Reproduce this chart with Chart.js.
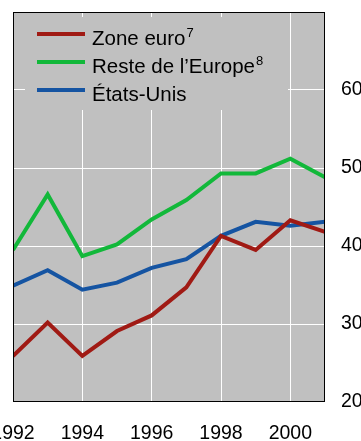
<!DOCTYPE html>
<html>
<head>
<meta charset="utf-8">
<script src="https://cdn.jsdelivr.net/npm/chart.js@4/dist/chart.umd.min.js"></script>
<style>
  html, body { margin: 0; padding: 0; background: #ffffff; }
  #wrap { width: 361px; height: 441px; position: relative; }
</style>
</head>
<body>
<div id="wrap"><canvas id="c" width="361" height="441"></canvas></div>
<script>
// Years on the horizontal axis
const years = [1992, 1993, 1994, 1995, 1996, 1997, 1998, 1999, 2000, 2001];

// Series values (per cent)
const zoneEuro     = [25.9, 30.2, 25.9, 29.1, 31.1, 34.7, 41.3, 39.5, 43.3, 41.8];
const resteEurope  = [39.5, 46.6, 38.7, 40.2, 43.4, 45.9, 49.3, 49.3, 51.2, 48.8];
const etatsUnis    = [34.9, 36.9, 34.4, 35.3, 37.2, 38.3, 41.3, 43.1, 42.6, 43.1];

// Legend entries: label text and superscript note
const seriesLabels = ['Zone euro', 'Reste de l\u2019Europe', '\u00C9tats-Unis'];
const seriesNotes  = ['7', '8', ''];
const seriesColors = ['#a01a14', '#12b83a', '#1554a2'];

// Axis limits and tick values
const xMin = 1992, xMax = 2001;
const xTickValues = [1992, 1994, 1996, 1998, 2000];
const yMin = 20, yMax = 70;
const yTickValues = [20, 30, 40, 50, 60, 70];
const yLabelValues = [20, 30, 40, 50, 60];

const PLOT_BG = '#c0c0c0';
const FONT = '"Liberation Sans", Arial, sans-serif';

function toPoints(vals) {
  return vals.map((v, i) => ({ x: years[i], y: v }));
}

const allSeries = [zoneEuro, resteEurope, etatsUnis];

const plotFrame = {
  id: 'plotFrame',
  beforeDraw(chart) {
    const { ctx, chartArea: a } = chart;
    ctx.save();
    ctx.fillStyle = PLOT_BG;
    ctx.fillRect(a.left, a.top, a.right - a.left, a.bottom - a.top);
    ctx.restore();
  },
  afterDraw(chart) {
    const { ctx, chartArea: a } = chart;
    ctx.save();
    // legend panel sits on top of the grid
    const lx = a.left + 12, ly = a.top + 5, lw = 263, lh = 93;
    ctx.fillStyle = PLOT_BG;
    ctx.fillRect(lx, ly, lw, lh);
    ctx.textBaseline = 'alphabetic';
    ctx.textAlign = 'left';
    for (let i = 0; i < seriesLabels.length; i++) {
      const lineY = a.top + 22 + i * 28;
      ctx.strokeStyle = seriesColors[i];
      ctx.lineWidth = 4;
      ctx.beginPath();
      ctx.moveTo(a.left + 24, lineY);
      ctx.lineTo(a.left + 72, lineY);
      ctx.stroke();
      ctx.fillStyle = '#000000';
      ctx.font = '20.5px ' + FONT;
      const tx = a.left + 79, ty = a.top + 33 + i * 28;
      ctx.fillText(seriesLabels[i], tx, ty);
      if (seriesNotes[i]) {
        const w = ctx.measureText(seriesLabels[i]).width;
        ctx.font = '13px ' + FONT;
        ctx.fillText(seriesNotes[i], tx + w + 1, ty - 8);
      }
    }
    // black frame round the plot
    ctx.strokeStyle = '#000000';
    ctx.lineWidth = 1;
    ctx.strokeRect(Math.round(a.left) + 0.5, Math.round(a.top) + 0.5,
                   Math.round(a.right - a.left) - 1, Math.round(a.bottom - a.top) - 1);
    ctx.restore();
  }
};

new Chart(document.getElementById('c'), {
  type: 'line',
  data: {
    datasets: allSeries.map((vals, i) => ({
      label: seriesLabels[i],
      data: toPoints(vals),
      borderColor: seriesColors[i],
      backgroundColor: seriesColors[i],
      borderWidth: 4,
      pointRadius: 0,
      pointHoverRadius: 0,
      tension: 0,
      fill: false
    }))
  },
  options: {
    responsive: false,
    animation: false,
    devicePixelRatio: 1,
    layout: { padding: { left: 13, top: 12, right: 0, bottom: 0 } },
    plugins: { legend: { display: false }, tooltip: { enabled: false } },
    scales: {
      x: {
        type: 'linear',
        min: xMin, max: xMax,
        grid: { color: '#ffffff', lineWidth: 1, drawTicks: false },
        border: { display: false },
        afterBuildTicks(s) { s.ticks = xTickValues.map(v => ({ value: v })); },
        afterFit(s) { s.height = 39; s.paddingLeft = 0; s.paddingRight = 0; },
        ticks: {
          padding: 20,
          color: '#000000',
          font: { family: FONT, size: 19.5 },
          maxRotation: 0,
          autoSkip: false,
          callback: v => String(v)
        }
      },
      y: {
        position: 'right',
        min: yMin, max: yMax,
        grid: { color: '#ffffff', lineWidth: 1, drawTicks: false },
        border: { display: false },
        afterBuildTicks(s) { s.ticks = yTickValues.map(v => ({ value: v })); },
        afterFit(s) { s.width = 36; s.paddingTop = 0; s.paddingBottom = 0; },
        ticks: {
          padding: 16,
          color: '#000000',
          font: { family: FONT, size: 19.5 },
          callback: v => yLabelValues.includes(v) ? String(v) : ''
        }
      }
    }
  },
  plugins: [plotFrame]
});
</script>
</body>
</html>
